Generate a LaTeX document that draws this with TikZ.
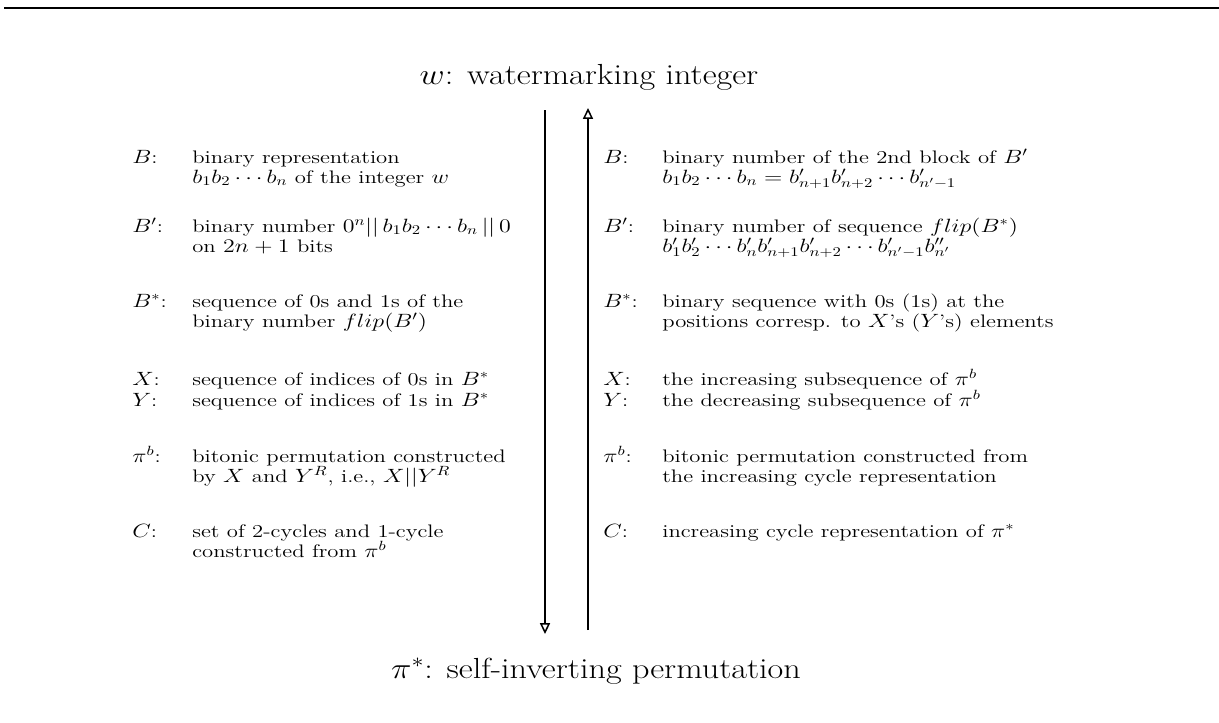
\documentclass[tikz,border=0pt]{standalone}
\usepackage{graphicx}
\usetikzlibrary{arrows.meta}
\newcommand{\sqz}[1]{\scalebox{1}[0.8]{#1}}
\begin{document}
\begin{tikzpicture}[x=0.6pt,y=-0.6pt,
  txt/.style={anchor=base west,inner sep=0pt,font=\fontsize{13.6}{12}\selectfont},
  ttl/.style={anchor=base,inner sep=0pt,font=\fontsize{20.5}{24}\selectfont},
  flow/.style={line width=0.9pt,-{Triangle[open,width=6pt,length=6.5pt]}}]
\useasboundingbox (0,0) rectangle (1219,722);
\draw[line width=1.2pt] (4,8) -- (1219,8);
\node[ttl] (top) at (589,84) {\scalebox{1}[0.85]{$w$: watermarking integer}};
\node[ttl] (bot) at (596,678) {\scalebox{1}[0.85]{$\pi^*$: self-inverting permutation}};
% left column
\node[txt] (lB) at (132,163) {\sqz{$B$:}};
\node[txt] (lB1) at (192,163) {\sqz{binary representation}};
\node[txt] (lB2) at (192,183) {\sqz{$b_1b_2\cdots b_n$ of the integer $w$}};
\node[txt] (lBp) at (132,232) {\sqz{$B'$:}};
\node[txt] (lBp1) at (192,232) {\sqz{binary number $0^n||\,b_1b_2\cdots b_n\,||\,0$}};
\node[txt] (lBp2) at (192,252) {\sqz{on $2n+1$ bits}};
\node[txt] (lBs) at (132,307) {\sqz{$B^*$:}};
\node[txt] (lBs1) at (192,307) {\sqz{sequence of 0s and 1s of the}};
\node[txt] (lBs2) at (192,327) {\sqz{binary number $flip(B')$}};
\node[txt] (lX) at (132,385) {\sqz{$X$:}};
\node[txt] (lX1) at (192,385) {\sqz{sequence of indices of 0s in $B^*$}};
\node[txt] (lY) at (132,406) {\sqz{$Y$:}};
\node[txt] (lY1) at (192,406) {\sqz{sequence of indices of 1s in $B^*$}};
\node[txt] (lP) at (132,462) {\sqz{$\pi^b$:}};
\node[txt] (lP1) at (192,462) {\sqz{bitonic permutation constructed}};
\node[txt] (lP2) at (192,482) {\sqz{by $X$ and $Y^R$, i.e., $X||Y^R$}};
\node[txt] (lC) at (132,537) {\sqz{$C$:}};
\node[txt] (lC1) at (192,537) {\sqz{set of 2-cycles and 1-cycle}};
\node[txt] (lC2) at (192,557) {\sqz{constructed from $\pi^b$}};
% right column
\node[txt] (rB) at (603,163) {\sqz{$B$:}};
\node[txt] (rB1) at (662,163) {\sqz{binary number of the 2nd block of $B'$}};
\node[txt] (rB2) at (662,183) {\sqz{$b_1b_2\cdots b_n = b'_{n+1}b'_{n+2}\cdots b'_{n'-1}$}};
\node[txt] (rBp) at (603,232) {\sqz{$B'$:}};
\node[txt] (rBp1) at (662,232) {\sqz{binary number of sequence $flip(B^*)$}};
\node[txt] (rBp2) at (662,252) {\sqz{$b'_1b'_2\cdots b'_nb'_{n+1}b'_{n+2}\cdots b'_{n'-1}b''_{n'}$}};
\node[txt] (rBs) at (603,307) {\sqz{$B^*$:}};
\node[txt] (rBs1) at (662,307) {\sqz{binary sequence with 0s (1s) at the}};
\node[txt] (rBs2) at (662,327) {\sqz{positions corresp. to $X$'s ($Y$'s) elements}};
\node[txt] (rX) at (603,385) {\sqz{$X$:}};
\node[txt] (rX1) at (662,385) {\sqz{the increasing subsequence of $\pi^b$}};
\node[txt] (rY) at (603,406) {\sqz{$Y$:}};
\node[txt] (rY1) at (662,406) {\sqz{the decreasing subsequence of $\pi^b$}};
\node[txt] (rP) at (603,462) {\sqz{$\pi^b$:}};
\node[txt] (rP1) at (662,462) {\sqz{bitonic permutation constructed from}};
\node[txt] (rP2) at (662,482) {\sqz{the increasing cycle representation}};
\node[txt] (rC) at (603,537) {\sqz{$C$:}};
\node[txt] (rC1) at (662,537) {\sqz{increasing cycle representation of $\pi^*$}};
% arrows
\coordinate (dTop) at (545,110);
\coordinate (dBot) at (545,634);
\coordinate (uBot) at (588,630);
\coordinate (uTop) at (588,108);
\draw[flow] (dTop) -- (dBot);
\draw[flow] (uBot) -- (uTop);
\end{tikzpicture}
\end{document}
